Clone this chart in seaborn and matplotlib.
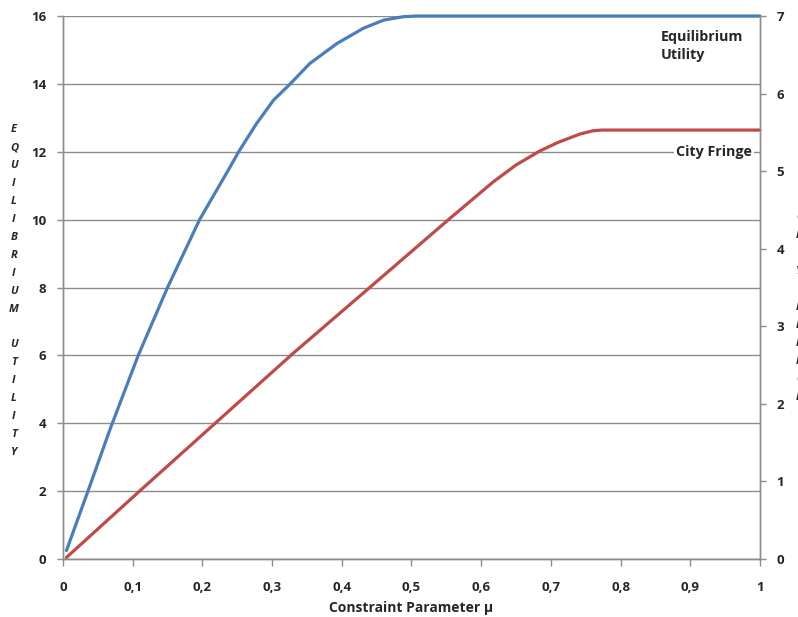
# equilibrium utility and city fringe vs constraint parameter
import matplotlib
matplotlib.use('Agg')
import matplotlib.pyplot as plt
import seaborn as sns

sns.set_style('white')
plt.rcParams['font.family'] = ['Open Sans', 'DejaVu Sans']
plt.rcParams['font.weight'] = 'bold'

# values
mu_util = [0.005, 0.035, 0.068, 0.108, 0.150, 0.196, 0.240, 0.252, 0.278, 0.302,
           0.326, 0.354, 0.393, 0.431, 0.460, 0.488, 0.507, 1.0]
utility = [0.25, 1.95, 3.85, 6.0, 8.0, 10.0, 11.56, 12.0, 12.84, 13.52,
           14.0, 14.6, 15.19, 15.64, 15.88, 15.98, 16.0, 16.0]

mu_fringe = [0.005, 0.110, 0.268, 0.330, 0.440, 0.555, 0.617, 0.650, 0.684,
             0.710, 0.742, 0.760, 0.773, 1.0]
fringe = [0.02, 0.876, 2.15, 2.65, 3.50, 4.39, 4.86, 5.08, 5.26,
          5.37, 5.48, 5.52, 5.53, 5.53]

x_ticks = [0, 0.1, 0.2, 0.3, 0.4, 0.5, 0.6, 0.7, 0.8, 0.9, 1]
x_labels = ['0', '0,1', '0,2', '0,3', '0,4', '0,5', '0,6', '0,7', '0,8', '0,9', '1']
left_ticks = [0, 2, 4, 6, 8, 10, 12, 14, 16]
right_ticks = [0, 1, 2, 3, 4, 5, 6, 7]

blue = '#4A7EBB'
red = '#BE4B48'
grid_col = '#8C8C8C'

fig = plt.figure(figsize=(7.98, 6.17), dpi=100)
ax = fig.add_axes([0.0789, 0.094, 0.8735, 0.880])
ax2 = ax.twinx()

sns.lineplot(x=mu_util, y=utility, ax=ax, color=blue, linewidth=2.3, clip_on=False)
sns.lineplot(x=mu_fringe, y=fringe, ax=ax2, color=red, linewidth=2.3, clip_on=False)

ax.set_xlim(0, 1)
ax.set_ylim(0, 16)
ax2.set_ylim(0, 7)

ax.set_xticks(x_ticks)
ax.set_xticklabels(x_labels)
ax.set_yticks(left_ticks)
ax2.set_yticks(right_ticks)

ax.yaxis.grid(True, color=grid_col, linewidth=1.0)
ax.xaxis.grid(False)
ax2.grid(False)

for a in (ax, ax2):
    for s in a.spines.values():
        s.set_color(grid_col)
        s.set_linewidth(1.0)
    a.spines['top'].set_visible(False)

ax.tick_params(axis='x', direction='out', length=5, width=1, color=grid_col,
               pad=11, labelsize=9.5, bottom=True)
ax.tick_params(axis='y', direction='out', length=4, width=1, color=grid_col,
               pad=8, labelsize=9.5, left=True)
ax2.tick_params(axis='y', direction='out', length=4, width=1, color=grid_col,
                pad=8, labelsize=9.5, right=True)
for lab in ax.get_xticklabels() + ax.get_yticklabels() + ax2.get_yticklabels():
    lab.set_fontweight('bold')

ax.set_xlabel('Constraint Parameter μ', fontsize=10, fontweight='bold', labelpad=5)
ax.set_ylabel('')
ax2.set_ylabel('')

# annotations next to the curves
ax.text(0.858, 15.12, 'Equilibrium\nUtility', fontsize=10.3, fontweight='bold',
        ha='left', va='center', linespacing=1.4)
ax.text(0.988, 12.0, 'City Fringe', fontsize=10.3, fontweight='bold', ha='right',
        va='center', bbox=dict(facecolor='white', edgecolor='none', pad=1.5))

# stacked vertical axis titles, Excel style
left_title = 'EQUILIBRIUM UTILITY'
for i, ch in enumerate(left_title):
    fig.text(14 / 798, 1 - (130 + i * 17.9) / 617, ch, fontsize=8, fontweight='bold',
             fontstyle='italic', ha='center', va='center')

right_title = 'CITY FRINGE'
for i, ch in enumerate(right_title):
    fig.text(796 / 798, 1 - (218 + i * 17.9) / 617, ch, fontsize=8, fontweight='bold',
             fontstyle='italic', ha='left', va='center')

fig.savefig('out.png', dpi=100)
